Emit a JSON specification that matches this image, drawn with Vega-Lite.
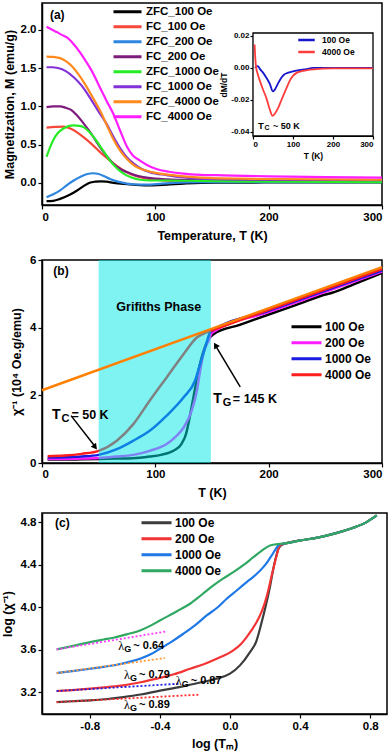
{
  "$schema": "https://vega.github.io/schema/vega-lite/v6.json",
  "background": "white",
  "padding": {"left": 0, "top": 2, "right": 5, "bottom": 0},
  "spacing": 10,
  "resolve": {"scale": {"color": "independent", "stroke": "independent"}, "legend": {"color": "independent"}},
  "datasets": {
    "magnet": [
      {"s":"ZFC_100 Oe","T":4,"M":-0.24},{"s":"ZFC_100 Oe","T":10,"M":-0.235},{"s":"ZFC_100 Oe","T":16,"M":-0.21},{"s":"ZFC_100 Oe","T":24,"M":-0.16},{"s":"ZFC_100 Oe","T":31,"M":-0.1},{"s":"ZFC_100 Oe","T":37,"M":-0.04},{"s":"ZFC_100 Oe","T":42,"M":0.0},{"s":"ZFC_100 Oe","T":47,"M":0.015},{"s":"ZFC_100 Oe","T":52,"M":0.02},{"s":"ZFC_100 Oe","T":57,"M":0.015},{"s":"ZFC_100 Oe","T":63,"M":0.0},{"s":"ZFC_100 Oe","T":72,"M":-0.015},{"s":"ZFC_100 Oe","T":81,"M":-0.025},{"s":"ZFC_100 Oe","T":90,"M":-0.033},{"s":"ZFC_100 Oe","T":98,"M":-0.035},{"s":"ZFC_100 Oe","T":110,"M":-0.025},{"s":"ZFC_100 Oe","T":125,"M":-0.01},{"s":"ZFC_100 Oe","T":140,"M":0.0},{"s":"ZFC_100 Oe","T":170,"M":0.003},{"s":"ZFC_100 Oe","T":220,"M":0.004},{"s":"ZFC_100 Oe","T":300,"M":0.004},
      {"s":"FC_100 Oe","T":4,"M":0.72},{"s":"FC_100 Oe","T":12,"M":0.73},{"s":"FC_100 Oe","T":19,"M":0.735},{"s":"FC_100 Oe","T":25,"M":0.71},{"s":"FC_100 Oe","T":31,"M":0.66},{"s":"FC_100 Oe","T":38,"M":0.58},{"s":"FC_100 Oe","T":45,"M":0.49},{"s":"FC_100 Oe","T":52,"M":0.39},{"s":"FC_100 Oe","T":60,"M":0.29},{"s":"FC_100 Oe","T":66,"M":0.22},{"s":"FC_100 Oe","T":72,"M":0.16},{"s":"FC_100 Oe","T":79,"M":0.11},{"s":"FC_100 Oe","T":86.5,"M":0.075},{"s":"FC_100 Oe","T":95,"M":0.05},{"s":"FC_100 Oe","T":104,"M":0.035},{"s":"FC_100 Oe","T":120,"M":0.025},{"s":"FC_100 Oe","T":150,"M":0.02},{"s":"FC_100 Oe","T":200,"M":0.02},{"s":"FC_100 Oe","T":250,"M":0.02},{"s":"FC_100 Oe","T":300,"M":0.02},
      {"s":"ZFC_200 Oe","T":4,"M":-0.19},{"s":"ZFC_200 Oe","T":10,"M":-0.15},{"s":"ZFC_200 Oe","T":16,"M":-0.1},{"s":"ZFC_200 Oe","T":22,"M":-0.03},{"s":"ZFC_200 Oe","T":28,"M":0.03},{"s":"ZFC_200 Oe","T":34,"M":0.08},{"s":"ZFC_200 Oe","T":40,"M":0.115},{"s":"ZFC_200 Oe","T":45,"M":0.125},{"s":"ZFC_200 Oe","T":50,"M":0.115},{"s":"ZFC_200 Oe","T":55,"M":0.085},{"s":"ZFC_200 Oe","T":60,"M":0.05},{"s":"ZFC_200 Oe","T":67,"M":0.015},{"s":"ZFC_200 Oe","T":75,"M":-0.01},{"s":"ZFC_200 Oe","T":83,"M":-0.022},{"s":"ZFC_200 Oe","T":92,"M":-0.025},{"s":"ZFC_200 Oe","T":104,"M":-0.015},{"s":"ZFC_200 Oe","T":116,"M":0.0},{"s":"ZFC_200 Oe","T":140,"M":0.008},{"s":"ZFC_200 Oe","T":200,"M":0.01},{"s":"ZFC_200 Oe","T":300,"M":0.01},
      {"s":"FC_200 Oe","T":4,"M":0.99},{"s":"FC_200 Oe","T":10,"M":1.0},{"s":"FC_200 Oe","T":16,"M":1.0},{"s":"FC_200 Oe","T":21,"M":0.98},{"s":"FC_200 Oe","T":26,"M":0.95},{"s":"FC_200 Oe","T":31,"M":0.88},{"s":"FC_200 Oe","T":36.5,"M":0.78},{"s":"FC_200 Oe","T":44,"M":0.63},{"s":"FC_200 Oe","T":51,"M":0.47},{"s":"FC_200 Oe","T":57,"M":0.35},{"s":"FC_200 Oe","T":63,"M":0.25},{"s":"FC_200 Oe","T":69,"M":0.18},{"s":"FC_200 Oe","T":75,"M":0.14},{"s":"FC_200 Oe","T":82,"M":0.1},{"s":"FC_200 Oe","T":89.5,"M":0.075},{"s":"FC_200 Oe","T":100,"M":0.055},{"s":"FC_200 Oe","T":110,"M":0.045},{"s":"FC_200 Oe","T":130,"M":0.035},{"s":"FC_200 Oe","T":170,"M":0.03},{"s":"FC_200 Oe","T":230,"M":0.03},{"s":"FC_200 Oe","T":300,"M":0.03},
      {"s":"ZFC_1000 Oe","T":4,"M":0.34},{"s":"ZFC_1000 Oe","T":7,"M":0.46},{"s":"ZFC_1000 Oe","T":10,"M":0.56},{"s":"ZFC_1000 Oe","T":14,"M":0.65},{"s":"ZFC_1000 Oe","T":19,"M":0.71},{"s":"ZFC_1000 Oe","T":24,"M":0.745},{"s":"ZFC_1000 Oe","T":28,"M":0.75},{"s":"ZFC_1000 Oe","T":33,"M":0.745},{"s":"ZFC_1000 Oe","T":37,"M":0.725},{"s":"ZFC_1000 Oe","T":42,"M":0.66},{"s":"ZFC_1000 Oe","T":48,"M":0.55},{"s":"ZFC_1000 Oe","T":54,"M":0.42},{"s":"ZFC_1000 Oe","T":60,"M":0.29},{"s":"ZFC_1000 Oe","T":66,"M":0.19},{"s":"ZFC_1000 Oe","T":72,"M":0.12},{"s":"ZFC_1000 Oe","T":79,"M":0.07},{"s":"ZFC_1000 Oe","T":86.5,"M":0.04},{"s":"ZFC_1000 Oe","T":95,"M":0.03},{"s":"ZFC_1000 Oe","T":110,"M":0.03},{"s":"ZFC_1000 Oe","T":140,"M":0.025},{"s":"ZFC_1000 Oe","T":200,"M":0.015},{"s":"ZFC_1000 Oe","T":300,"M":0.01},
      {"s":"FC_1000 Oe","T":4,"M":1.51},{"s":"FC_1000 Oe","T":9,"M":1.51},{"s":"FC_1000 Oe","T":14,"M":1.5},{"s":"FC_1000 Oe","T":21,"M":1.46},{"s":"FC_1000 Oe","T":28,"M":1.38},{"s":"FC_1000 Oe","T":35,"M":1.27},{"s":"FC_1000 Oe","T":42,"M":1.12},{"s":"FC_1000 Oe","T":50,"M":0.93},{"s":"FC_1000 Oe","T":57,"M":0.77},{"s":"FC_1000 Oe","T":63,"M":0.6},{"s":"FC_1000 Oe","T":69,"M":0.45},{"s":"FC_1000 Oe","T":75,"M":0.33},{"s":"FC_1000 Oe","T":81,"M":0.25},{"s":"FC_1000 Oe","T":88,"M":0.18},{"s":"FC_1000 Oe","T":95,"M":0.14},{"s":"FC_1000 Oe","T":110,"M":0.1},{"s":"FC_1000 Oe","T":125,"M":0.07},{"s":"FC_1000 Oe","T":140,"M":0.055},{"s":"FC_1000 Oe","T":170,"M":0.045},{"s":"FC_1000 Oe","T":220,"M":0.04},{"s":"FC_1000 Oe","T":300,"M":0.035},
      {"s":"ZFC_4000 Oe","T":4,"M":1.65},{"s":"ZFC_4000 Oe","T":10,"M":1.645},{"s":"ZFC_4000 Oe","T":16,"M":1.63},{"s":"ZFC_4000 Oe","T":21,"M":1.59},{"s":"ZFC_4000 Oe","T":26,"M":1.53},{"s":"ZFC_4000 Oe","T":33,"M":1.4},{"s":"ZFC_4000 Oe","T":39.5,"M":1.25},{"s":"ZFC_4000 Oe","T":45,"M":1.11},{"s":"ZFC_4000 Oe","T":51,"M":0.95},{"s":"ZFC_4000 Oe","T":57,"M":0.76},{"s":"ZFC_4000 Oe","T":63,"M":0.57},{"s":"ZFC_4000 Oe","T":69,"M":0.42},{"s":"ZFC_4000 Oe","T":75,"M":0.31},{"s":"ZFC_4000 Oe","T":82,"M":0.22},{"s":"ZFC_4000 Oe","T":89.5,"M":0.17},{"s":"ZFC_4000 Oe","T":97,"M":0.14},{"s":"ZFC_4000 Oe","T":104,"M":0.12},{"s":"ZFC_4000 Oe","T":115,"M":0.1},{"s":"ZFC_4000 Oe","T":128,"M":0.08},{"s":"ZFC_4000 Oe","T":150,"M":0.06},{"s":"ZFC_4000 Oe","T":200,"M":0.05},{"s":"ZFC_4000 Oe","T":300,"M":0.04},
      {"s":"FC_4000 Oe","T":4,"M":2.04},{"s":"FC_4000 Oe","T":9,"M":2.0},{"s":"FC_4000 Oe","T":13,"M":1.97},{"s":"FC_4000 Oe","T":18,"M":1.93},{"s":"FC_4000 Oe","T":22,"M":1.9},{"s":"FC_4000 Oe","T":28,"M":1.81},{"s":"FC_4000 Oe","T":36.5,"M":1.64},{"s":"FC_4000 Oe","T":44,"M":1.46},{"s":"FC_4000 Oe","T":51,"M":1.25},{"s":"FC_4000 Oe","T":57,"M":1.07},{"s":"FC_4000 Oe","T":63,"M":0.9},{"s":"FC_4000 Oe","T":69,"M":0.68},{"s":"FC_4000 Oe","T":75,"M":0.47},{"s":"FC_4000 Oe","T":80,"M":0.36},{"s":"FC_4000 Oe","T":86.5,"M":0.29},{"s":"FC_4000 Oe","T":93,"M":0.23},{"s":"FC_4000 Oe","T":101,"M":0.18},{"s":"FC_4000 Oe","T":112,"M":0.145},{"s":"FC_4000 Oe","T":125,"M":0.12},{"s":"FC_4000 Oe","T":140,"M":0.105},{"s":"FC_4000 Oe","T":154,"M":0.1},{"s":"FC_4000 Oe","T":200,"M":0.085},{"s":"FC_4000 Oe","T":250,"M":0.075},{"s":"FC_4000 Oe","T":300,"M":0.068}
    ],
    "dmdt": [
      {"f":"100 Oe","T":5,"d":0.0},{"f":"100 Oe","T":12,"d":0.001},{"f":"100 Oe","T":18,"d":-0.001},{"f":"100 Oe","T":25,"d":-0.003},{"f":"100 Oe","T":33,"d":-0.006},{"f":"100 Oe","T":42,"d":-0.01},{"f":"100 Oe","T":50,"d":-0.0147},{"f":"100 Oe","T":56,"d":-0.013},{"f":"100 Oe","T":63,"d":-0.0095},{"f":"100 Oe","T":70,"d":-0.0065},{"f":"100 Oe","T":78,"d":-0.0042},{"f":"100 Oe","T":86,"d":-0.0032},{"f":"100 Oe","T":100,"d":-0.0022},{"f":"100 Oe","T":115,"d":-0.0015},{"f":"100 Oe","T":134,"d":-0.0008},{"f":"100 Oe","T":150,"d":0.0},{"f":"100 Oe","T":200,"d":0.0},{"f":"100 Oe","T":300,"d":0.0},
      {"f":"4000 Oe","T":4,"d":0.0145},{"f":"4000 Oe","T":6,"d":0.005},{"f":"4000 Oe","T":8,"d":0.0},{"f":"4000 Oe","T":12,"d":-0.004},{"f":"4000 Oe","T":17,"d":-0.008},{"f":"4000 Oe","T":25,"d":-0.0135},{"f":"4000 Oe","T":33,"d":-0.0186},{"f":"4000 Oe","T":42,"d":-0.026},{"f":"4000 Oe","T":49,"d":-0.03},{"f":"4000 Oe","T":56,"d":-0.028},{"f":"4000 Oe","T":63,"d":-0.025},{"f":"4000 Oe","T":72,"d":-0.0195},{"f":"4000 Oe","T":84,"d":-0.0125},{"f":"4000 Oe","T":92,"d":-0.008},{"f":"4000 Oe","T":100,"d":-0.005},{"f":"4000 Oe","T":110,"d":-0.003},{"f":"4000 Oe","T":120,"d":-0.0022},{"f":"4000 Oe","T":135,"d":-0.0015},{"f":"4000 Oe","T":151,"d":-0.001},{"f":"4000 Oe","T":200,"d":-0.0004},{"f":"4000 Oe","T":300,"d":-0.0003}
    ],
    "chi": [
      {"f":"100 Oe","T":5,"c":0.1},{"f":"100 Oe","T":20,"c":0.1},{"f":"100 Oe","T":35,"c":0.11},{"f":"100 Oe","T":50,"c":0.12},{"f":"100 Oe","T":65,"c":0.13},{"f":"100 Oe","T":80,"c":0.14},{"f":"100 Oe","T":95,"c":0.19},{"f":"100 Oe","T":105,"c":0.24},{"f":"100 Oe","T":116,"c":0.36},{"f":"100 Oe","T":123,"c":0.56},{"f":"100 Oe","T":127,"c":0.85},{"f":"100 Oe","T":130,"c":1.3},{"f":"100 Oe","T":133.6,"c":1.94},{"f":"100 Oe","T":138,"c":2.72},{"f":"100 Oe","T":142.5,"c":3.31},{"f":"100 Oe","T":147,"c":3.66},{"f":"100 Oe","T":151,"c":3.8},{"f":"100 Oe","T":175,"c":4.09},{"f":"100 Oe","T":200,"c":4.39},{"f":"100 Oe","T":225,"c":4.68},{"f":"100 Oe","T":250,"c":4.98},{"f":"100 Oe","T":256,"c":5.03},{"f":"100 Oe","T":275,"c":5.28},{"f":"100 Oe","T":300,"c":5.62},
      {"f":"200 Oe","T":5,"c":0.12},{"f":"200 Oe","T":20,"c":0.12},{"f":"200 Oe","T":35,"c":0.13},{"f":"200 Oe","T":50,"c":0.15},{"f":"200 Oe","T":65,"c":0.19},{"f":"200 Oe","T":80.6,"c":0.24},{"f":"200 Oe","T":95,"c":0.36},{"f":"200 Oe","T":110,"c":0.56},{"f":"200 Oe","T":118,"c":0.78},{"f":"200 Oe","T":125,"c":1.05},{"f":"200 Oe","T":132,"c":1.54},{"f":"200 Oe","T":136.6,"c":2.13},{"f":"200 Oe","T":139.5,"c":2.72},{"f":"200 Oe","T":143,"c":3.31},{"f":"200 Oe","T":147,"c":3.61},{"f":"200 Oe","T":150,"c":3.85},{"f":"200 Oe","T":200,"c":4.46},{"f":"200 Oe","T":250,"c":5.06},{"f":"200 Oe","T":300,"c":5.66},
      {"f":"1000 Oe","T":5,"c":0.16},{"f":"1000 Oe","T":20,"c":0.17},{"f":"1000 Oe","T":35,"c":0.19},{"f":"1000 Oe","T":50,"c":0.24},{"f":"1000 Oe","T":66,"c":0.41},{"f":"1000 Oe","T":80.6,"c":0.66},{"f":"1000 Oe","T":95,"c":0.95},{"f":"1000 Oe","T":110,"c":1.4},{"f":"1000 Oe","T":125,"c":1.94},{"f":"1000 Oe","T":135,"c":2.43},{"f":"1000 Oe","T":139.5,"c":2.92},{"f":"1000 Oe","T":144,"c":3.41},{"f":"1000 Oe","T":148.7,"c":3.88},{"f":"1000 Oe","T":200,"c":4.5},{"f":"1000 Oe","T":250,"c":5.1},{"f":"1000 Oe","T":300,"c":5.69},
      {"f":"4000 Oe","T":5,"c":0.2},{"f":"4000 Oe","T":20,"c":0.22},{"f":"4000 Oe","T":35,"c":0.27},{"f":"4000 Oe","T":50,"c":0.36},{"f":"4000 Oe","T":66,"c":0.66},{"f":"4000 Oe","T":80.6,"c":1.15},{"f":"4000 Oe","T":95,"c":1.84},{"f":"4000 Oe","T":110,"c":2.53},{"f":"4000 Oe","T":125,"c":3.22},{"f":"4000 Oe","T":136.6,"c":3.71},{"f":"4000 Oe","T":145,"c":3.86},{"f":"4000 Oe","T":150,"c":3.92},{"f":"4000 Oe","T":200,"c":4.53},{"f":"4000 Oe","T":250,"c":5.13},{"f":"4000 Oe","T":300,"c":5.73}
    ],
    "logchi": [
      {"f":"100 Oe","x":-0.989,"y":3.109},{"f":"100 Oe","x":-0.9,"y":3.117},{"f":"100 Oe","x":-0.798,"y":3.125},{"f":"100 Oe","x":-0.7,"y":3.138},{"f":"100 Oe","x":-0.608,"y":3.156},{"f":"100 Oe","x":-0.51,"y":3.18},{"f":"100 Oe","x":-0.418,"y":3.21},{"f":"100 Oe","x":-0.32,"y":3.24},{"f":"100 Oe","x":-0.228,"y":3.272},{"f":"100 Oe","x":-0.15,"y":3.3},{"f":"100 Oe","x":-0.076,"y":3.329},{"f":"100 Oe","x":0.0,"y":3.376},{"f":"100 Oe","x":0.057,"y":3.454},{"f":"100 Oe","x":0.114,"y":3.579},{"f":"100 Oe","x":0.15,"y":3.68},{"f":"100 Oe","x":0.171,"y":3.798},{"f":"100 Oe","x":0.19,"y":3.92},{"f":"100 Oe","x":0.209,"y":4.049},{"f":"100 Oe","x":0.23,"y":4.21},{"f":"100 Oe","x":0.247,"y":4.362},{"f":"100 Oe","x":0.262,"y":4.47},{"f":"100 Oe","x":0.276,"y":4.55},{"f":"100 Oe","x":0.29,"y":4.58},{"f":"100 Oe","x":0.304,"y":4.592},{"f":"100 Oe","x":0.323,"y":4.603},{"f":"100 Oe","x":0.4,"y":4.628},{"f":"100 Oe","x":0.5,"y":4.655},{"f":"100 Oe","x":0.6,"y":4.695},{"f":"100 Oe","x":0.7,"y":4.745},{"f":"100 Oe","x":0.779,"y":4.8},{"f":"100 Oe","x":0.837,"y":4.863},
      {"f":"200 Oe","x":-0.989,"y":3.213},{"f":"200 Oe","x":-0.9,"y":3.222},{"f":"200 Oe","x":-0.798,"y":3.235},{"f":"200 Oe","x":-0.7,"y":3.25},{"f":"200 Oe","x":-0.608,"y":3.266},{"f":"200 Oe","x":-0.51,"y":3.295},{"f":"200 Oe","x":-0.418,"y":3.329},{"f":"200 Oe","x":-0.32,"y":3.37},{"f":"200 Oe","x":-0.228,"y":3.422},{"f":"200 Oe","x":-0.15,"y":3.465},{"f":"200 Oe","x":-0.076,"y":3.516},{"f":"200 Oe","x":0.019,"y":3.595},{"f":"200 Oe","x":0.06,"y":3.65},{"f":"200 Oe","x":0.095,"y":3.72},{"f":"200 Oe","x":0.125,"y":3.79},{"f":"200 Oe","x":0.152,"y":3.861},{"f":"200 Oe","x":0.178,"y":3.95},{"f":"200 Oe","x":0.2,"y":4.049},{"f":"200 Oe","x":0.22,"y":4.17},{"f":"200 Oe","x":0.238,"y":4.3},{"f":"200 Oe","x":0.253,"y":4.4},{"f":"200 Oe","x":0.266,"y":4.487},{"f":"200 Oe","x":0.285,"y":4.58},{"f":"200 Oe","x":0.304,"y":4.596},{"f":"200 Oe","x":0.323,"y":4.603},{"f":"200 Oe","x":0.4,"y":4.628},{"f":"200 Oe","x":0.5,"y":4.655},{"f":"200 Oe","x":0.6,"y":4.695},{"f":"200 Oe","x":0.7,"y":4.745},{"f":"200 Oe","x":0.779,"y":4.8},{"f":"200 Oe","x":0.837,"y":4.863},
      {"f":"1000 Oe","x":-0.989,"y":3.382},{"f":"1000 Oe","x":-0.9,"y":3.4},{"f":"1000 Oe","x":-0.798,"y":3.422},{"f":"1000 Oe","x":-0.72,"y":3.44},{"f":"1000 Oe","x":-0.646,"y":3.46},{"f":"1000 Oe","x":-0.58,"y":3.485},{"f":"1000 Oe","x":-0.513,"y":3.516},{"f":"1000 Oe","x":-0.45,"y":3.56},{"f":"1000 Oe","x":-0.4,"y":3.61},{"f":"1000 Oe","x":-0.33,"y":3.68},{"f":"1000 Oe","x":-0.266,"y":3.751},{"f":"1000 Oe","x":-0.2,"y":3.83},{"f":"1000 Oe","x":-0.133,"y":3.923},{"f":"1000 Oe","x":-0.07,"y":4.0},{"f":"1000 Oe","x":-0.019,"y":4.08},{"f":"1000 Oe","x":0.04,"y":4.16},{"f":"1000 Oe","x":0.095,"y":4.236},{"f":"1000 Oe","x":0.15,"y":4.31},{"f":"1000 Oe","x":0.19,"y":4.377},{"f":"1000 Oe","x":0.215,"y":4.43},{"f":"1000 Oe","x":0.238,"y":4.487},{"f":"1000 Oe","x":0.258,"y":4.54},{"f":"1000 Oe","x":0.276,"y":4.58},{"f":"1000 Oe","x":0.295,"y":4.597},{"f":"1000 Oe","x":0.323,"y":4.603},{"f":"1000 Oe","x":0.4,"y":4.628},{"f":"1000 Oe","x":0.5,"y":4.655},{"f":"1000 Oe","x":0.6,"y":4.695},{"f":"1000 Oe","x":0.7,"y":4.745},{"f":"1000 Oe","x":0.779,"y":4.8},{"f":"1000 Oe","x":0.837,"y":4.863},
      {"f":"4000 Oe","x":-0.989,"y":3.604},{"f":"4000 Oe","x":-0.9,"y":3.635},{"f":"4000 Oe","x":-0.798,"y":3.673},{"f":"4000 Oe","x":-0.72,"y":3.697},{"f":"4000 Oe","x":-0.665,"y":3.714},{"f":"4000 Oe","x":-0.59,"y":3.745},{"f":"4000 Oe","x":-0.513,"y":3.782},{"f":"4000 Oe","x":-0.45,"y":3.83},{"f":"4000 Oe","x":-0.4,"y":3.876},{"f":"4000 Oe","x":-0.3,"y":3.965},{"f":"4000 Oe","x":-0.228,"y":4.033},{"f":"4000 Oe","x":-0.16,"y":4.12},{"f":"4000 Oe","x":-0.095,"y":4.205},{"f":"4000 Oe","x":-0.04,"y":4.27},{"f":"4000 Oe","x":0.019,"y":4.33},{"f":"4000 Oe","x":0.08,"y":4.4},{"f":"4000 Oe","x":0.133,"y":4.471},{"f":"4000 Oe","x":0.18,"y":4.53},{"f":"4000 Oe","x":0.228,"y":4.58},{"f":"4000 Oe","x":0.285,"y":4.596},{"f":"4000 Oe","x":0.323,"y":4.603},{"f":"4000 Oe","x":0.4,"y":4.628},{"f":"4000 Oe","x":0.5,"y":4.655},{"f":"4000 Oe","x":0.6,"y":4.695},{"f":"4000 Oe","x":0.7,"y":4.745},{"f":"4000 Oe","x":0.779,"y":4.8},{"f":"4000 Oe","x":0.837,"y":4.863}
    ],
    "fits": [
      {"fit":"4000","x":-0.989,"y":3.604},{"fit":"4000","x":-0.362,"y":3.773},
      {"fit":"1000","x":-0.989,"y":3.382},{"fit":"1000","x":-0.371,"y":3.523},
      {"fit":"200","x":-0.989,"y":3.213},{"fit":"200","x":-0.285,"y":3.282},
      {"fit":"100","x":-0.989,"y":3.109},{"fit":"100","x":-0.181,"y":3.178}
    ],
    "lambda": [
      {"x":-0.637,"y":3.635,"v":"~ 0.64"},
      {"x":-0.605,"y":3.366,"v":"~ 0.79"},
      {"x":-0.31,"y":3.303,"v":"~ 0.87"},
      {"x":-0.605,"y":3.078,"v":"~ 0.89"}
    ]
  },
  "vconcat": [
    {
      "width": 340,
      "height": 202,
      "layer": [
        {
          "layer": [
            {
              "data": {"name": "magnet"},
              "mark": {"type": "line", "strokeWidth": 2.2, "interpolate": "monotone"},
              "encoding": {
                "x": {"field": "T", "type": "quantitative", "scale": {"domain": [0, 300], "nice": false},
                      "axis": {"values": [0, 100, 200, 300], "title": "Temperature, T (K)", "titlePadding": 7}},
                "y": {"field": "M", "type": "quantitative", "scale": {"domain": [-0.29, 2.35], "nice": false, "zero": false},
                      "axis": {"values": [0, 0.5, 1, 1.5, 2], "format": ".1f", "title": "Magnetization, M (emu/g)", "titlePadding": 4}},
                "color": {"field": "s", "type": "nominal",
                  "scale": {"domain": ["ZFC_100 Oe","FC_100 Oe","ZFC_200 Oe","FC_200 Oe","ZFC_1000 Oe","FC_1000 Oe","ZFC_4000 Oe","FC_4000 Oe"],
                            "range": ["#000000","#f5473a","#2f86e0","#7d1c7d","#26ec26","#8232d8","#ff8a1e","#ff1eff"]},
                  "legend": {"orient": "none", "legendX": 70, "legendY": 1.5, "title": null, "symbolType": "stroke", "symbolStrokeWidth": 3, "symbolSize": 784, "clipHeight": 14.7, "rowPadding": 0, "labelOffset": 3, "labelFontSize": 11.5}}
              }
            },
            {
              "data": {"values": [{"lab": "(a)", "T": 7, "M": 2.19}]},
              "mark": {"type": "text", "align": "left", "baseline": "middle", "fontSize": 12, "fontWeight": "bold", "font": "Liberation Sans"},
              "encoding": {"x": {"field": "T", "type": "quantitative"}, "y": {"field": "M", "type": "quantitative"}, "text": {"field": "lab"}}
            }
          ]
        },
        {
          "layer": [
            {
              "data": {"values": [{"x0": 0, "x1": 300, "y0": -0.0425, "y1": 0.0217}]},
              "mark": {"type": "rect", "fill": "white", "stroke": "black", "strokeWidth": 1.3},
              "encoding": {
                "x": {"field": "x0", "type": "quantitative", "scale": {"domain": [0, 300], "range": [211, 331], "nice": false},
                      "axis": {"orient": "bottom", "offset": -69, "values": [0, 100, 200, 300], "title": "T (K)", "labelFontSize": 8, "titleFontSize": 8.5, "tickSize": 3, "labelPadding": 1, "titlePadding": 3, "domainWidth": 1.2}},
                "x2": {"field": "x1"},
                "y": {"field": "y0", "type": "quantitative", "scale": {"domain": [-0.0425, 0.0217], "range": [133, 30], "nice": false, "zero": false},
                      "axis": {"orient": "left", "offset": -211, "values": [0.02, 0, -0.02, -0.04], "format": ".2f", "labelExpr": "replace(datum.label, '\u2212', '-')", "title": "dM/dT", "labelFontSize": 8, "titleFontSize": 8.5, "tickSize": 3, "labelPadding": 1, "titlePadding": 2, "domainWidth": 1.2}},
                "y2": {"field": "y1"}
              }
            },
            {
              "data": {"name": "dmdt"},
              "mark": {"type": "line", "strokeWidth": 1.8, "interpolate": "monotone"},
              "encoding": {
                "x": {"field": "T", "type": "quantitative", "scale": {"domain": [0, 300], "range": [211, 331], "nice": false}},
                "y": {"field": "d", "type": "quantitative", "scale": {"domain": [-0.0425, 0.0217], "range": [133, 30], "nice": false, "zero": false}},
                "color": {"field": "f", "type": "nominal", "scale": {"domain": ["100 Oe", "4000 Oe"], "range": ["#1616cc", "#ff3c3c"]},
                  "legend": {"orient": "none", "legendX": 255, "legendY": 31, "title": null, "symbolType": "stroke", "symbolStrokeWidth": 2.5, "symbolSize": 272, "clipHeight": 12, "rowPadding": 0, "labelOffset": 6, "labelFontSize": 8.5}}
              }
            },
            {
              "data": {"values": [{"T": 12.6, "d": -0.0362}]},
              "layer": [
                {"mark": {"type": "text", "text": "T", "align": "left", "baseline": "middle", "fontSize": 9.5, "fontWeight": "bold", "font": "Liberation Sans"}},
                {"mark": {"type": "text", "text": "C", "align": "left", "baseline": "middle", "dx": 6.5, "dy": 2.5, "fontSize": 7, "fontWeight": "bold", "font": "Liberation Sans"}},
                {"mark": {"type": "text", "text": "~ 50 K", "align": "left", "baseline": "middle", "dx": 15, "fontSize": 9, "fontWeight": "bold", "font": "Liberation Sans"}}
              ],
              "encoding": {
                "x": {"field": "T", "type": "quantitative", "scale": {"domain": [0, 300], "range": [211, 331], "nice": false}},
                "y": {"field": "d", "type": "quantitative", "scale": {"domain": [-0.0425, 0.0217], "range": [133, 30], "nice": false, "zero": false}}
              }
            }
          ]
        }
      ],
      "resolve": {"scale": {"x": "independent", "y": "independent", "color": "independent"}}
    },
    {
      "width": 340,
      "height": 203,
      "layer": [
        {
          "data": {"name": "chi"},
          "mark": {"type": "line", "strokeWidth": 2.5, "interpolate": "monotone"},
          "encoding": {
            "x": {"field": "T", "type": "quantitative", "scale": {"domain": [0, 300], "nice": false},
                  "axis": {"values": [0, 100, 200, 300], "title": "T (K)", "labelPadding": 1, "titlePadding": 7}},
            "y": {"field": "c", "type": "quantitative", "scale": {"domain": [0, 6], "nice": false},
                  "axis": {"values": [0, 2, 4, 6], "title": "χ⁻¹ (10⁴ Oe.g/emu)", "titlePadding": 6}},
            "color": {"field": "f", "type": "nominal",
              "scale": {"domain": ["100 Oe", "200 Oe", "1000 Oe", "4000 Oe"], "range": ["#000000", "#ff1eff", "#1a1ae0", "#ff1e1e"]},
              "legend": {"orient": "none", "legendX": 248, "legendY": 58.8, "title": null, "symbolType": "stroke", "symbolStrokeWidth": 3, "symbolSize": 900, "clipHeight": 15.7, "rowPadding": 0, "labelOffset": 2, "labelFontSize": 12}}
          }
        },
        {
          "data": {"values": [{"a": 50, "b": 149}]},
          "mark": {"type": "rect", "fill": "#00e6e6", "opacity": 0.5},
          "encoding": {"x": {"field": "a", "type": "quantitative"}, "x2": {"field": "b"}}
        },
        {
          "data": {"values": [{"T": 0, "c": 2.15}, {"T": 300, "c": 5.79}]},
          "mark": {"type": "line", "color": "#ff8000", "strokeWidth": 2.5},
          "encoding": {"x": {"field": "T", "type": "quantitative"}, "y": {"field": "c", "type": "quantitative"}}
        },
        {
          "data": {"values": [{"T": 103, "c": 4.61, "t": "Grifiths Phase"}]},
          "mark": {"type": "text", "align": "center", "baseline": "middle", "fontSize": 12.5, "fontWeight": "bold", "font": "Liberation Sans"},
          "encoding": {"x": {"field": "T", "type": "quantitative"}, "y": {"field": "c", "type": "quantitative"}, "text": {"field": "t"}}
        },
        {
          "data": {"values": [{"T": 10, "c": 5.68, "t": "(b)"}]},
          "mark": {"type": "text", "align": "left", "baseline": "middle", "fontSize": 12, "fontWeight": "bold", "font": "Liberation Sans"},
          "encoding": {"x": {"field": "T", "type": "quantitative"}, "y": {"field": "c", "type": "quantitative"}, "text": {"field": "t"}}
        },
        {
          "data": {"values": [{"T": 8.8, "c": 1.42, "sub": "C", "rest": "= 50 K"}, {"T": 151.2, "c": 1.89, "sub": "G", "rest": " = 145 K"}]},
          "layer": [
            {"mark": {"type": "text", "text": "T", "align": "left", "baseline": "middle", "fontSize": 14, "fontWeight": "bold", "font": "Liberation Sans"}},
            {"mark": {"type": "text", "align": "left", "baseline": "middle", "dx": 9.5, "dy": 4, "fontSize": 11, "fontWeight": "bold", "font": "Liberation Sans"}, "encoding": {"text": {"field": "sub"}}},
            {"mark": {"type": "text", "align": "left", "baseline": "middle", "dx": 19.5, "fontSize": 12.5, "fontWeight": "bold", "font": "Liberation Sans"}, "encoding": {"text": {"field": "rest"}}}
          ],
          "encoding": {"x": {"field": "T", "type": "quantitative"}, "y": {"field": "c", "type": "quantitative"}}
        },
        {
          "data": {"values": [{"T": 25.6, "c": 1.4, "T2": 46.5, "c2": 0.5}, {"T": 174.9, "c": 2.25, "T2": 153.5, "c2": 3.45}]},
          "mark": {"type": "rule", "strokeWidth": 1.5, "color": "black"},
          "encoding": {"x": {"field": "T", "type": "quantitative"}, "y": {"field": "c", "type": "quantitative"}, "x2": {"field": "T2"}, "y2": {"field": "c2"}}
        },
        {
          "data": {"values": [{"T": 46.9, "c": 0.47}]},
          "mark": {"type": "point", "shape": "triangle-up", "angle": 142.5, "filled": true, "size": 45, "color": "black", "opacity": 1},
          "encoding": {"x": {"field": "T", "type": "quantitative"}, "y": {"field": "c", "type": "quantitative"}}
        },
        {
          "data": {"values": [{"T": 153.1, "c": 3.48}]},
          "mark": {"type": "point", "shape": "triangle-up", "angle": 329, "filled": true, "size": 45, "color": "black", "opacity": 1},
          "encoding": {"x": {"field": "T", "type": "quantitative"}, "y": {"field": "c", "type": "quantitative"}}
        }
      ]
    },
    {
      "width": 345,
      "height": 201,
      "layer": [
        {
          "data": {"name": "logchi"},
          "mark": {"type": "line", "strokeWidth": 2.2, "interpolate": "monotone"},
          "encoding": {
            "x": {"field": "x", "type": "quantitative", "scale": {"domain": [-1.0725, 0.8956], "nice": false, "zero": false},
                  "axis": {"values": [-0.8, -0.4, 0, 0.4, 0.8], "format": ".1f", "labelExpr": "replace(datum.label, '\u2212', '-')", "title": "log (Tₘ)", "titlePadding": 6}},
            "y": {"field": "y", "type": "quantitative", "scale": {"domain": [2.997, 4.886], "nice": false, "zero": false},
                  "axis": {"values": [3.2, 3.6, 4.0, 4.4, 4.8], "format": ".1f", "title": "log (χ⁻¹)", "titlePadding": 6}},
            "color": {"field": "f", "type": "nominal",
              "scale": {"domain": ["100 Oe", "200 Oe", "1000 Oe", "4000 Oe"], "range": ["#3c3c3c", "#f23434", "#1f78e6", "#30a862"]},
              "legend": {"orient": "none", "legendX": 98, "legendY": 1.85, "title": null, "symbolType": "stroke", "symbolStrokeWidth": 3, "symbolSize": 900, "clipHeight": 15.7, "rowPadding": 0, "labelOffset": 2, "labelFontSize": 12}}
          }
        },
        {
          "data": {"name": "fits"},
          "mark": {"type": "line", "strokeWidth": 1.8, "strokeDash": [2, 2]},
          "encoding": {
            "x": {"field": "x", "type": "quantitative"},
            "y": {"field": "y", "type": "quantitative"},
            "stroke": {"field": "fit", "type": "nominal", "scale": {"domain": ["4000", "1000", "200", "100"], "range": ["#ff3cff", "#ff9a3c", "#1e1ee0", "#ff2a2a"]}, "legend": null}
          }
        },
        {
          "data": {"values": [{"x": -0.998, "y": 4.794, "t": "(c)"}]},
          "mark": {"type": "text", "align": "left", "baseline": "middle", "fontSize": 12, "fontWeight": "bold", "font": "Liberation Sans"},
          "encoding": {"x": {"field": "x", "type": "quantitative"}, "y": {"field": "y", "type": "quantitative"}, "text": {"field": "t"}}
        },
        {
          "data": {"name": "lambda"},
          "layer": [
            {"mark": {"type": "text", "text": "λ", "align": "left", "baseline": "middle", "fontSize": 12, "font": "Liberation Serif"}},
            {"mark": {"type": "text", "text": "G", "align": "left", "baseline": "middle", "dx": 6, "dy": 3, "fontSize": 9, "fontWeight": "bold", "font": "Liberation Sans"}},
            {"mark": {"type": "text", "align": "left", "baseline": "middle", "dx": 15, "fontSize": 11, "fontWeight": "bold", "font": "Liberation Sans"}, "encoding": {"text": {"field": "v"}}}
          ],
          "encoding": {"x": {"field": "x", "type": "quantitative"}, "y": {"field": "y", "type": "quantitative"}}
        }
      ]
    }
  ],
  "config": {
    "font": "Liberation Sans",
    "view": {"stroke": "black", "strokeWidth": 1.5},
    "axis": {"labelFont": "Liberation Sans", "titleFont": "Liberation Sans", "labelFontWeight": "bold", "titleFontWeight": "bold", "labelFontSize": 11.5, "titleFontSize": 12.5, "labelColor": "black", "titleColor": "black", "domainColor": "black", "tickColor": "black", "grid": false, "tickSize": 4, "domainWidth": 1.5, "tickWidth": 1.2, "labelPadding": 2},
    "legend": {"labelFont": "Liberation Sans", "labelFontWeight": "bold", "labelColor": "black", "padding": 0}
  }
}
